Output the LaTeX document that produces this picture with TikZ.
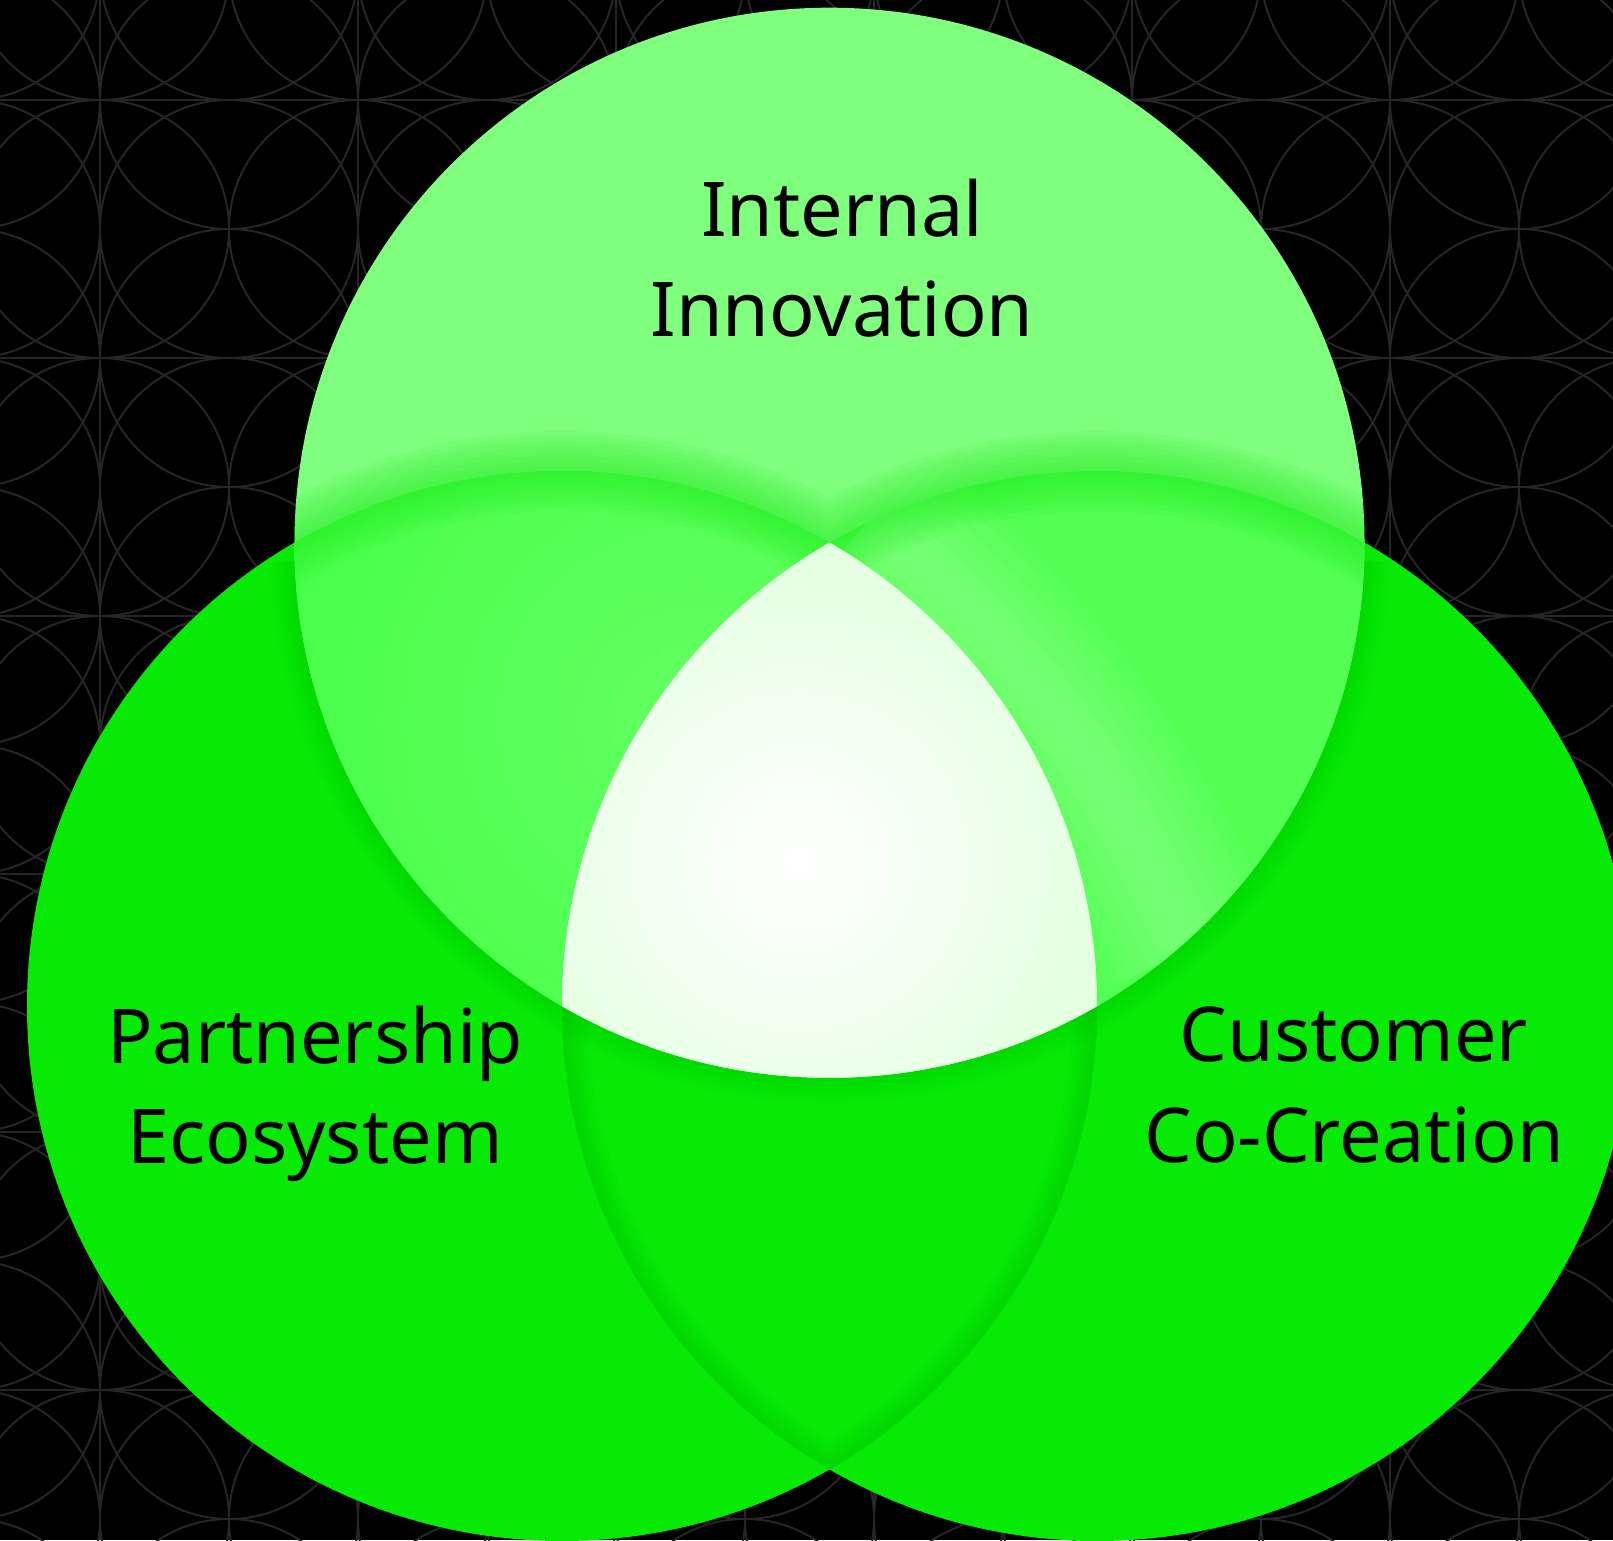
\documentclass[tikz,border=0pt]{standalone}
\usepackage{fontspec}
\setmainfont{Noto Sans}
\usepackage{xcolor}
\usepackage{tikz}

\definecolor{bgline}{RGB}{38,38,38}
\definecolor{topgreen}{RGB}{127,255,125}
\definecolor{basegreen}{RGB}{6,234,6}
\definecolor{tlgreen}{RGB}{72,255,72}
\definecolor{tllight}{RGB}{98,255,98}
\definecolor{trgreen}{RGB}{82,255,82}
\definecolor{trlight}{RGB}{165,255,165}
\definecolor{glowgreen}{RGB}{20,235,20}
\definecolor{shadowgreen}{RGB}{0,150,0}
\definecolor{coreedge}{RGB}{192,255,186}

\newcommand{\vennr}{5.35}

\tikzset{
    bgstroke/.style={draw=bgline,line width=0.55pt},
    vennlabel/.style={align=center,inner sep=0pt,text=black,font=\fontsize{21.5}{28.5}\selectfont}
}

\begin{document}
\begin{tikzpicture}
    \useasboundingbox (0,0) rectangle (16.13,15.40);

    % 背景
    \fill[black] (0,0) rectangle (16.13,15.40);
    \begin{scope}
        \clip (0,0) rectangle (16.13,15.40);
        \foreach \x in {1.00,3.58,6.16,8.74,11.32,13.90}
            \draw[bgstroke] (\x,0) -- (\x,15.40);
        \foreach \y in {14.40,11.82,9.24,6.66,4.08,1.50}
            \draw[bgstroke] (0,\y) -- (16.13,\y);
        \foreach \i in {0,...,14}
            \foreach \j in {0,...,14}{
                \pgfmathtruncatemacro{\skipit}{isodd(\i)*isodd(\j)}
                \ifnum\skipit=0
                    \draw[bgstroke] ({1.29*\i-0.29},{15.69-1.29*\j}) circle (1.29);
                \fi
            }
    \end{scope}

    % 圆心
    \coordinate (partner) at (5.62,5.34);
    \coordinate (customer) at (10.97,5.34);
    \coordinate (internal) at (8.295,9.973);

    % 下面两个圆
    \fill[basegreen] (partner) circle (\vennr);
    \fill[basegreen] (customer) circle (\vennr);
    \begin{scope}
        \clip (partner) circle (\vennr);
        \clip (customer) circle (\vennr);
        \foreach \w in {0.1,0.2,...,0.5}
            \draw[shadowgreen,opacity=0.045,line width=\w cm] (partner) circle (\vennr) (customer) circle (\vennr);
    \end{scope}
    \begin{scope}
        \clip (partner) circle (\vennr);
        \foreach \w in {0.1,0.2,...,0.5}
            \draw[shadowgreen,opacity=0.03,line width=\w cm] (internal) ++(182:\vennr) arc (182:270:\vennr);
    \end{scope}
    \begin{scope}
        \clip (customer) circle (\vennr);
        \foreach \w in {0.1,0.2,...,0.5}
            \draw[shadowgreen,opacity=0.03,line width=\w cm] (internal) ++(270:\vennr) arc (270:358:\vennr);
    \end{scope}

    % 上面的圆
    \fill[topgreen] (internal) circle (\vennr);
    \begin{scope}
        \clip (internal) circle (\vennr);
        \begin{scope}
            \clip (partner) circle (\vennr);
            \fill[tlgreen] (partner) circle (\vennr);
            \shade[inner color=tllight,outer color=tlgreen] (6.9,8.2) circle (4.4);
        \end{scope}
        \begin{scope}
            \clip (customer) circle (\vennr);
            \fill[trgreen] (customer) circle (\vennr);
            \foreach \w in {0.3,0.6,...,2.1}
                \draw[trlight,opacity=0.09,line width=\w cm] (8.7,10.2) to[bend left=12] (11.9,5.9);
        \end{scope}
        \foreach \w in {0.1,0.2,...,0.8}
            \draw[glowgreen,opacity=0.07,line width=\w cm]
                (partner) ++(132:\vennr) arc (132:60:\vennr)
                (customer) ++(120:\vennr) arc (120:48:\vennr);
        % 中间
        \clip (partner) circle (\vennr);
        \clip (customer) circle (\vennr);
        \fill[coreedge] (partner) circle (\vennr);
        \shade[inner color=white,outer color=coreedge] (7.99,6.79) circle (7);
    \end{scope}

    % 文字
    \node[vennlabel] (internaltext) at (8.42,12.815) {Internal\\Innovation};
    \node[vennlabel] (partnertext) at (3.15,4.46) {Partnership\\Ecosystem};
    \node[vennlabel] (customertext) at (13.54,4.55) {Customer\\Co-Creation};
\end{tikzpicture}
\end{document}
